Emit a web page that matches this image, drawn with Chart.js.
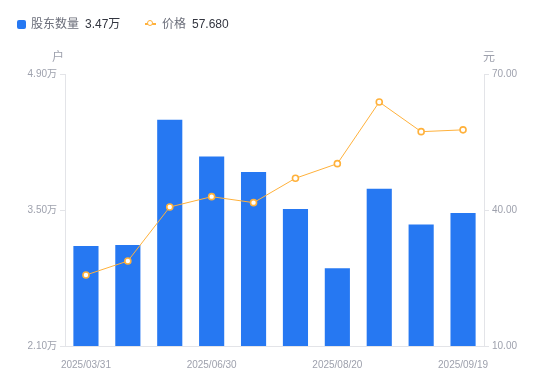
<!DOCTYPE html>
<html>
<head>
<meta charset="utf-8">
<script src="https://cdn.jsdelivr.net/npm/chart.js@4/dist/chart.umd.min.js"></script>
<style>
  html, body { margin: 0; padding: 0; background: #fff; }
  #wrap { position: relative; width: 550px; height: 381px; font-family: Arial, "Liberation Sans", "Noto Sans CJK SC", sans-serif; }
  #c { position: absolute; left: 0; top: 0; }
  .lg { position: absolute; top: 16px; font-size: 12px; line-height: 16px; white-space: nowrap; }
  .lg .name { color: #6b6e7a; }
  .lg .val { color: #333640; margin-left: 6px; }
  .sq { position: absolute; left: 17px; top: 20px; width: 9px; height: 9px; border-radius: 2px; background: #2678f2; }
  .ln { position: absolute; left: 145px; top: 23px; width: 11px; height: 1.5px; background: #ffb13b; }
  .dot { position: absolute; left: 147px; top: 20px; width: 4px; height: 4px; border: 1.5px solid #ffb13b; border-radius: 50%; background: #fff; }
</style>
</head>
<body>
<div id="wrap">
  <canvas id="c" width="550" height="381"></canvas>
  <div class="sq"></div>
  <div class="lg" style="left:31px;"><span class="name">股东数量</span><span class="val">3.47万</span></div>
  <div class="ln"></div><div class="dot"></div>
  <div class="lg" style="left:162px;"><span class="name">价格</span><span class="val">57.680</span></div>
</div>
<script>
const categories = ["2025/03/31","2025/04/20","2025/05/20","2025/06/30","2025/07/10","2025/07/31","2025/08/20","2025/08/31","2025/09/10","2025/09/19"];
const holders = [3.13, 3.14, 4.43, 4.05, 3.89, 3.51, 2.90, 3.72, 3.35, 3.47];
const prices = [25.66, 28.75, 40.66, 42.94, 41.62, 47.00, 50.22, 63.82, 57.28, 57.68];
const leftTicks = [2.10, 3.50, 4.90];
const rightTicks = [10.00, 40.00, 70.00];

const BLUE = '#2678f2';
const ORANGE = '#ffb13b';
const TICK = '#9ea1ad';
const LINE = '#e3e4e8';

const axisTitles = {
  id: 'axisTitles',
  afterDraw(chart) {
    const ctx = chart.ctx, a = chart.chartArea;
    ctx.save();
    ctx.fillStyle = TICK;
    ctx.font = '12px Arial, "Noto Sans CJK SC", sans-serif';
    ctx.textAlign = 'center';
    ctx.textBaseline = 'middle';
    ctx.fillText('户', a.left - 7, a.top - 16);
    ctx.fillText('元', a.right + 5, a.top - 16);
    ctx.restore();
  }
};

new Chart(document.getElementById('c'), {
  data: {
    labels: categories,
    datasets: [
      {
        type: 'line', label: '价格', data: prices, yAxisID: 'yR', order: 1,
        borderColor: ORANGE, borderWidth: 1, backgroundColor: '#fff',
        pointRadius: 3, pointBorderWidth: 1.6, pointBackgroundColor: '#fff', pointBorderColor: ORANGE,
        tension: 0
      },
      {
        type: 'bar', label: '股东数量', data: holders, yAxisID: 'yL', order: 2,
        backgroundColor: BLUE, borderWidth: 0,
        barPercentage: 0.6, categoryPercentage: 1
      }
    ]
  },
  options: {
    responsive: false,
    animation: false,
    layout: { padding: { top: 74, bottom: 0, left: 0, right: 0 } },
    plugins: { legend: { display: false }, tooltip: { enabled: false } },
    scales: {
      x: {
        offset: true,
        grid: { display: false },
        border: { display: true, color: LINE, width: 1 },
        ticks: {
          autoSkip: false, maxRotation: 0, color: TICK, padding: 5,
          font: { size: 10, family: 'Arial, "Liberation Sans", sans-serif' },
          callback: function(v, i) { return i % 3 === 0 ? this.getLabelForValue(v) : ''; }
        },
        afterFit(s) { s.height = 35; }
      },
      yL: {
        position: 'left', min: 2.1, max: 4.9,
        afterBuildTicks(s) { s.ticks = leftTicks.map(v => ({ value: v })); },
        grid: { display: true, drawOnChartArea: false, tickLength: 5, color: LINE },
        border: { display: true, color: LINE, width: 1 },
        ticks: {
          color: TICK, padding: 3,
          font: { size: 10, family: 'Arial, "Liberation Sans", "Noto Sans CJK SC", sans-serif' },
          callback: v => Number(v).toFixed(2) + '万'
        },
        afterFit(s) { s.width = 65; }
      },
      yR: {
        position: 'right', min: 10, max: 70,
        afterBuildTicks(s) { s.ticks = rightTicks.map(v => ({ value: v })); },
        grid: { display: true, drawOnChartArea: false, tickLength: 5, color: LINE },
        border: { display: true, color: LINE, width: 1 },
        ticks: {
          color: TICK, padding: 3,
          font: { size: 10, family: 'Arial, "Liberation Sans", sans-serif' },
          callback: v => Number(v).toFixed(2)
        },
        afterFit(s) { s.width = 66; }
      }
    }
  },
  plugins: [axisTitles]
});
</script>
</body>
</html>
